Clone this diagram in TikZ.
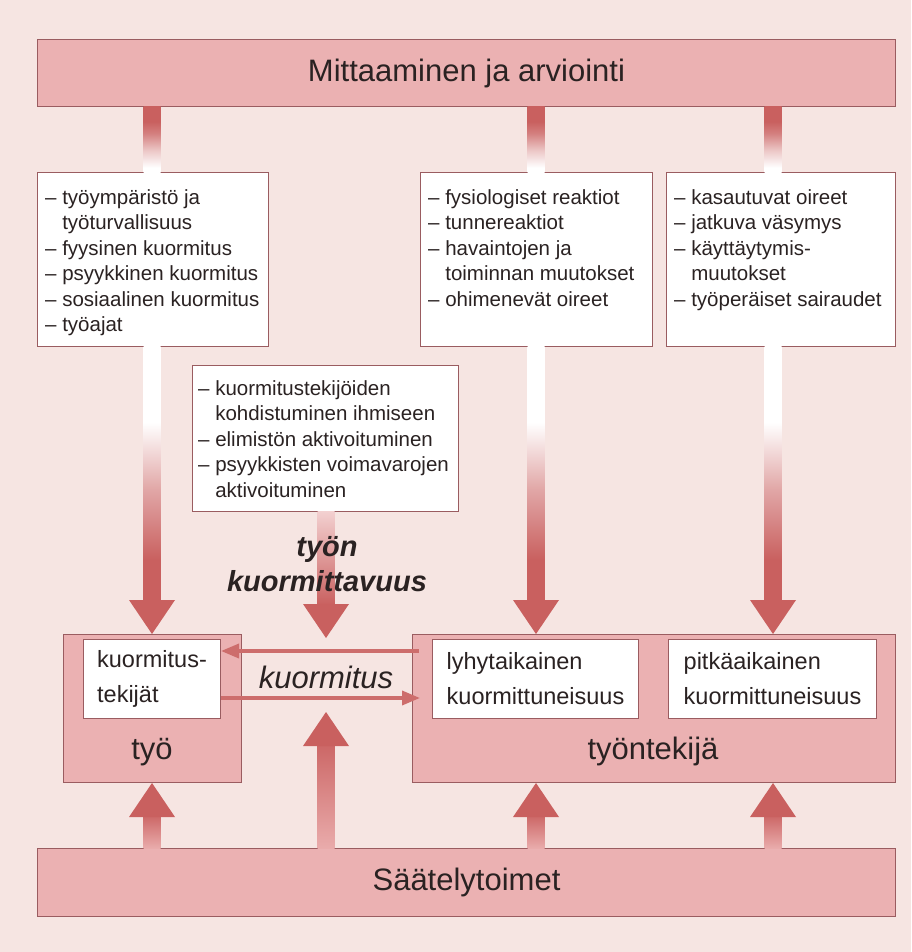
\documentclass[tikz,border=0pt]{standalone}
\usepackage{fontspec}
\setmainfont{Liberation Sans}
\usetikzlibrary{calc,arrows.meta}
\definecolor{bg}{HTML}{F6E5E2}
\definecolor{barfill}{HTML}{EBB1B2}
\definecolor{edge}{HTML}{9A5C60}
\definecolor{ared}{HTML}{C9605F}
\definecolor{lpink}{HTML}{E9ABAB}
\definecolor{ink}{HTML}{2A2222}
\pgfdeclareverticalshading{topfade}{100bp}{color(0bp)=(white); color(29bp)=(white); color(42bp)=(ared!35!white); color(55bp)=(ared!80!white); color(64bp)=(ared); color(100bp)=(ared)}
\pgfdeclareverticalshading{downfade}{100bp}{color(0bp)=(ared); color(33bp)=(ared); color(47bp)=(ared!55!white); color(60bp)=(white); color(100bp)=(white)}
\pgfdeclareverticalshading{midfade}{100bp}{color(0bp)=(ared); color(25bp)=(ared); color(75bp)=(lpink!55!white); color(100bp)=(lpink!55!white)}
\pgfdeclareverticalshading{upfade}{100bp}{color(0bp)=(lpink); color(25bp)=(lpink); color(75bp)=(ared!90!lpink); color(100bp)=(ared!90!lpink)}
\newcommand\lst{\fontsize{20.5}{25.5}\selectfont}
\newcommand\inn{\fontsize{23.5}{35}\selectfont}
\newcommand\lbl{\fontsize{31}{36}\selectfont}
\newcommand\ci{\hphantom{–\ }}
\newcommand\fatdown[3]{%
 \shade[shading=#3] let \p1=(#1), \p2=(#2) in (\x1-8.5pt,\y1+1pt) rectangle (\x1+8.5pt,\y2+33pt);
 \fill[ared] let \p1=(#1), \p2=(#2) in (\x1-23pt,\y2+34pt) -- (\x1+23pt,\y2+34pt) -- (\x1,\y2) -- cycle;}
\newcommand\fatup[3]{%
 \shade[shading=#3] let \p1=(#1), \p2=(#2) in (\x1-8.5pt,\y1) rectangle (\x1+8.5pt,\y2-33pt);
 \fill[ared] let \p1=(#1), \p2=(#2) in (\x1-23pt,\y2-34pt) -- (\x1+23pt,\y2-34pt) -- (\x1,\y2) -- cycle;}
\begin{document}
\begin{tikzpicture}[x=1pt,y=-1pt,
 bar/.style={draw=edge, line width=1pt, fill=barfill, anchor=north west, inner sep=0pt, text=ink},
 wbox/.style={draw=edge, line width=1pt, fill=white, anchor=north west, inner sep=0pt, text=ink},
 txt/.style={text=ink, inner sep=0pt},
 lsttxt/.style={txt, font=\lst, align=left, anchor=north west},
 harrow/.style={draw=ared!92!white, line width=3.5pt, -{Triangle[length=18pt,width=14pt]}}]
\fill[bg] (0,0) rectangle (911,952);
\useasboundingbox (0,0) rectangle (911,952);
% bars and boxes
\node[bar, minimum width=858pt, minimum height=67pt, font=\lbl] (top) at (37,39) {Mittaaminen ja arviointi};
\node[wbox, minimum width=231pt, minimum height=174pt] (b1) at (37,172) {};
\node[wbox, minimum width=232pt, minimum height=174pt] (b2) at (420,172) {};
\node[wbox, minimum width=229pt, minimum height=174pt] (b3) at (666,172) {};
\node[wbox, minimum width=266pt, minimum height=146pt] (cb) at (192,365) {};
\node[bar, minimum width=178pt, minimum height=148pt] (tyo) at (63,634) {};
\node[bar, minimum width=483pt, minimum height=148pt] (tk) at (412,634) {};
\node[wbox, minimum width=137pt, minimum height=79pt, font=\inn, align=left] (kt) at (83,639) {kuormitus-\\tekijät};
\node[wbox, minimum width=206pt, minimum height=79pt, font=\inn, align=left] (ly) at (432,639) {lyhytaikainen\\kuormittuneisuus};
\node[wbox, minimum width=208pt, minimum height=79pt, font=\inn, align=left] (pi) at (668,639) {pitkäaikainen\\kuormittuneisuus};
\node[bar, minimum width=858pt, minimum height=68pt, font=\lbl] (bot) at (37,848) {Säätelytoimet};
% columns
\coordinate (c1) at (152,0);
\coordinate (c2) at (326,0);
\coordinate (c3) at (536,0);
\coordinate (c4) at (773,0);
\coordinate (ctip) at (326,638);
\coordinate (utip) at (326,712);
% connectors from top bar
\shade[shading=topfade] let \p1=(c1 |- top.south), \p2=(c1 |- b1.north) in (\x1-8.5pt,\y1) rectangle (\x1+8.5pt,\y2-1pt);
\shade[shading=topfade] let \p1=(c3 |- top.south), \p2=(c3 |- b2.north) in (\x1-8.5pt,\y1) rectangle (\x1+8.5pt,\y2-1pt);
\shade[shading=topfade] let \p1=(c4 |- top.south), \p2=(c4 |- b3.north) in (\x1-8.5pt,\y1) rectangle (\x1+8.5pt,\y2-1pt);
% fat arrows down
\fatdown{c1 |- b1.south}{c1 |- tyo.north}{downfade}
\fatdown{c2 |- cb.south}{ctip}{midfade}
\fatdown{c3 |- b2.south}{c3 |- tk.north}{downfade}
\fatdown{c4 |- b3.south}{c4 |- tk.north}{downfade}
% fat arrows up
\fatup{c1 |- bot.north}{c1 |- tyo.south}{upfade}
\fatup{c2 |- bot.north}{utip}{upfade}
\fatup{c3 |- bot.north}{c3 |- tk.south}{upfade}
\fatup{c4 |- bot.north}{c4 |- tk.south}{upfade}
% thin arrows
\coordinate (h1) at (419,651);
\coordinate (h2) at (420,698);
\draw[harrow] (h1) -- (h1 -| kt.east);
\draw[harrow] (kt.east |- h2) -- (h2);
% texts
\node[lsttxt] (t1) at ($(b1.north west)+(8,14)$) {\strut– työympäristö ja\\\ci työturvallisuus\\– fyysinen kuormitus\\– psyykkinen kuormitus\\– sosiaalinen kuormitus\\– työajat};
\node[lsttxt] (t2) at ($(b2.north west)+(8,14)$) {\strut– fysiologiset reaktiot\\– tunnereaktiot\\– havaintojen ja\\\ci toiminnan muutokset\\– ohimenevät oireet};
\node[lsttxt] (t3) at ($(b3.north west)+(8,14)$) {\strut– kasautuvat oireet\\– jatkuva väsymys\\– käyttäytymis-\\\ci muutokset\\– työperäiset sairaudet};
\node[lsttxt] (t4) at ($(cb.north west)+(6,12)$) {\strut– kuormitustekijöiden\\\ci kohdistuminen ihmiseen\\– elimistön aktivoituminen\\– psyykkisten voimavarojen\\\ci aktivoituminen};
\node[txt, font=\lbl] (tyolbl) at (152,752) {työ};
\node[txt, font=\lbl] (tklbl) at (653,751) {työntekijä};
\node[txt, font=\lbl\itshape] (kuorm) at (326,677) {kuormitus};
\node[txt, font=\fontsize{29}{35}\selectfont\bfseries\itshape, align=center] (tkuorm) at (327,564) {työn\\kuormittavuus};
\end{tikzpicture}
\end{document}
